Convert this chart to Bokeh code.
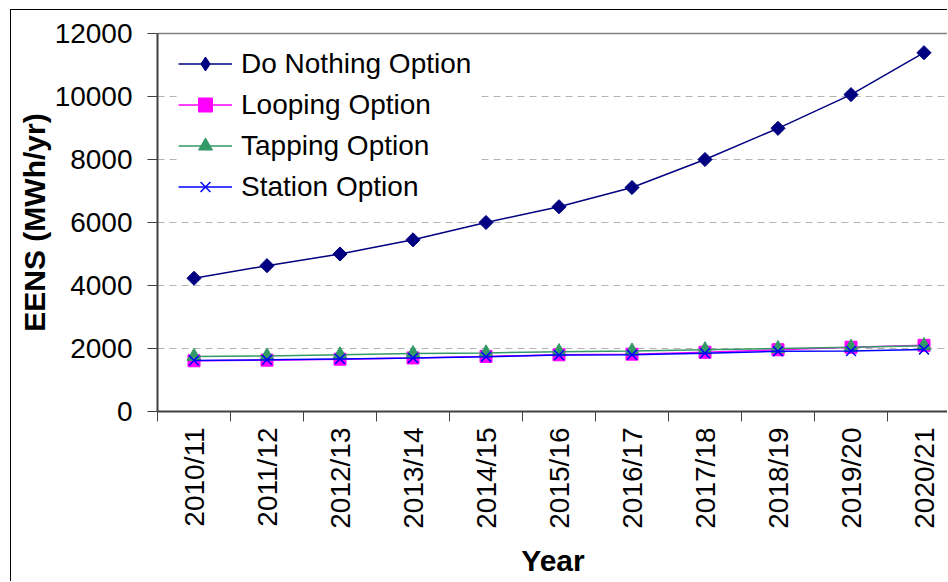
import math

from bokeh.plotting import figure
from bokeh.models import FixedTicker, Legend, LegendItem, LinearAxis, Range1d
from bokeh.embed import file_html
from bokeh.resources import INLINE

# Expected energy not served per year, by reinforcement option
years = ["2010/11", "2011/12", "2012/13", "2013/14", "2014/15", "2015/16",
         "2016/17", "2017/18", "2018/19", "2019/20", "2020/21"]
do_nothing = [4230, 4630, 5000, 5450, 6000, 6500, 7110, 8000, 8990, 10060, 11390]
looping = [1610, 1630, 1660, 1700, 1750, 1800, 1820, 1880, 1960, 2040, 2100]
tapping = [1750, 1760, 1800, 1840, 1860, 1900, 1920, 1960, 2000, 2040, 2090]
station = [1620, 1640, 1670, 1700, 1740, 1790, 1800, 1850, 1910, 1920, 1970]
y_ticks = [0, 2000, 4000, 6000, 8000, 10000, 12000]

FONT = "Liberation Sans"
x = list(range(len(years)))

p = figure(width=937, height=572, output_backend="svg", toolbar_location=None,
           x_range=Range1d(-0.5, -0.5 + 791 / 73), y_range=Range1d(0, 12000),
           min_border_left=146, min_border_right=0, min_border_top=23,
           min_border_bottom=171, background_fill_color="white",
           border_fill_color="white", outline_line_color=None)

# thin black frame around the whole chart
p.styles = {"margin-left": "10px", "margin-top": "9px",
            "border-left": "1px solid black", "border-top": "1px solid black"}

# series
r_dn_l = p.line(x, do_nothing, line_color="#000080", line_width=1.5)
r_dn_m = p.scatter(x, do_nothing, marker="square", angle=math.pi / 4, size=10,
                   fill_color="#000080", line_color="#000080")
r_lo_l = p.line(x, looping, line_color="#FF00FF", line_width=1.5)
r_lo_m = p.scatter(x, looping, marker="square", size=12,
                   fill_color="#FF00FF", line_color="#FF00FF")
r_ta_l = p.line(x, tapping, line_color="#339966", line_width=1.5)
r_ta_m = p.scatter(x, tapping, marker="triangle", size=14,
                   fill_color="#339966", line_color="#339966")
r_st_l = p.line(x, station, line_color="#0000FF", line_width=1.5)
r_st_m = p.scatter(x, station, marker="x", size=14,
                   line_color="#0000FF", line_width=1.5)

# legend swatch for the diamond series (markers lose their angle in legends)
r_dn_key = p.scatter([float("nan")], [float("nan")], marker="diamond",
                     fill_color="#000080", line_color="#000080")

# axes
p.yaxis.ticker = FixedTicker(ticks=y_ticks)
p.yaxis.axis_label = "EENS (MWh/yr)"
p.yaxis.major_tick_out = 10
p.yaxis.major_tick_in = 0
p.yaxis.minor_tick_line_color = None
p.yaxis.major_label_standoff = 15
p.yaxis.axis_label_standoff = 1

p.xaxis.ticker = FixedTicker(ticks=x, minor_ticks=[i + 0.5 for i in range(-1, len(years))])
p.xaxis.major_label_overrides = {i: lab for i, lab in enumerate(years)}
p.xaxis.major_label_orientation = math.pi / 2
p.xaxis.major_tick_out = 0
p.xaxis.major_tick_in = 0
p.xaxis.minor_tick_out = 10
p.xaxis.minor_tick_in = 0
p.xaxis.major_label_standoff = 6
p.xaxis.axis_label = "Year"
p.xaxis.axis_label_standoff = 12

for ax in (p.xaxis[0], p.yaxis[0]):
    ax.axis_line_color = "#404040"
    ax.axis_line_width = 2
    ax.major_tick_line_color = "#404040"
    ax.major_label_text_font = FONT
    ax.major_label_text_font_size = "28px"
    ax.major_label_text_color = "black"
    ax.axis_label_text_font = FONT
    ax.axis_label_text_font_style = "bold"
    ax.axis_label_text_font_size = "30px"
    ax.axis_label_text_color = "black"
p.xaxis.major_tick_line_color = None
p.xaxis.minor_tick_line_color = "#404040"

# plot-area border along the top
top_edge = LinearAxis(ticker=FixedTicker(ticks=[]), axis_line_color="#808080",
                      axis_line_width=1.5, major_tick_line_color=None,
                      minor_tick_line_color=None)
p.add_layout(top_edge, "above")

p.xgrid.grid_line_color = None
p.ygrid.grid_line_color = "#b4b4b4"
p.ygrid.grid_line_dash = "7 5"
p.ygrid.grid_line_width = 1

legend = Legend(items=[
    LegendItem(label="Do Nothing Option", renderers=[r_dn_l, r_dn_key]),
    LegendItem(label="Looping Option", renderers=[r_lo_l, r_lo_m]),
    LegendItem(label="Tapping Option", renderers=[r_ta_l, r_ta_m]),
    LegendItem(label="Station Option", renderers=[r_st_l, r_st_m]),
], location=(21, 207))
legend.label_text_font = FONT
legend.label_text_font_size = "28px"
legend.label_text_color = "black"
legend.glyph_width = 54
legend.glyph_height = 35
legend.label_height = 35
legend.label_width = 236
legend.label_standoff = 9
legend.spacing = 6
legend.padding = 10
legend.margin = 0
legend.border_line_color = None
legend.background_fill_color = "white"
legend.background_fill_alpha = 1.0
p.add_layout(legend)

open("out.html", "w").write(file_html(p, INLINE))
